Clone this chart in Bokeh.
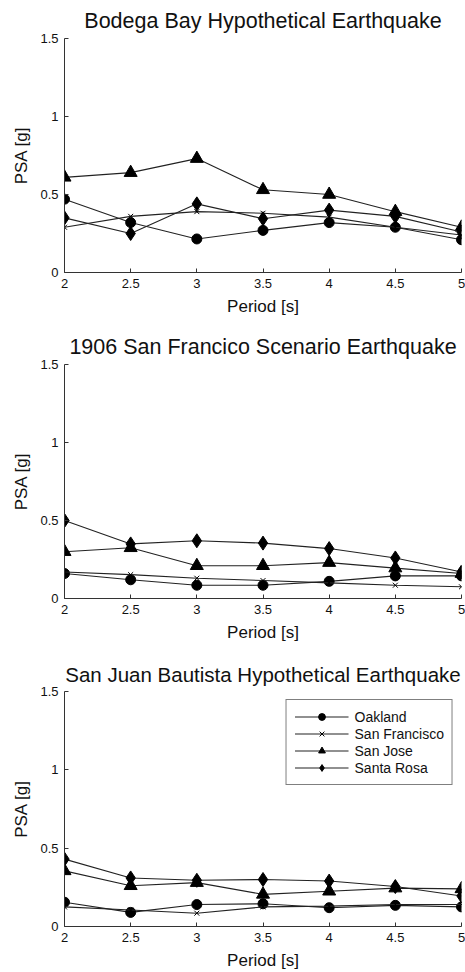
from bokeh.plotting import figure
from bokeh.layouts import column
from bokeh.models import FixedTicker, Legend
from bokeh.embed import file_html
from bokeh.resources import INLINE

periods = [2, 2.5, 3, 3.5, 4, 4.5, 5]
x_ticks = [2, 2.5, 3, 3.5, 4, 4.5, 5]
x_tick_labels = ["2", "2.5", "3", "3.5", "4", "4.5", "5"]
y_ticks = [0, 0.5, 1, 1.5]
y_tick_labels = ["0", "0.5", "1", "1.5"]

stations = ["Oakland", "San Francisco", "San Jose", "Santa Rosa"]

titles = ["Bodega Bay Hypothetical Earthquake",
          "1906 San Francico Scenario Earthquake",
          "San Juan Bautista Hypothetical Earthquake"]

bodega_oakland = [0.47, 0.32, 0.215, 0.27, 0.32, 0.29, 0.21]
bodega_sf = [0.29, 0.36, 0.39, 0.38, 0.355, 0.29, 0.24]
bodega_sj = [0.61, 0.64, 0.73, 0.53, 0.50, 0.39, 0.29]
bodega_sr = [0.35, 0.25, 0.44, 0.345, 0.40, 0.36, 0.26]

sf1906_oakland = [0.16, 0.12, 0.085, 0.085, 0.11, 0.145, 0.145]
sf1906_sf = [0.17, 0.153, 0.13, 0.115, 0.10, 0.085, 0.075]
sf1906_sj = [0.30, 0.325, 0.21, 0.21, 0.23, 0.195, 0.16]
sf1906_sr = [0.50, 0.35, 0.37, 0.355, 0.32, 0.26, 0.17]

sjb_oakland = [0.155, 0.09, 0.14, 0.145, 0.12, 0.135, 0.125]
sjb_sf = [0.125, 0.105, 0.085, 0.125, 0.13, 0.14, 0.14]
sjb_sj = [0.355, 0.26, 0.28, 0.205, 0.225, 0.245, 0.24]
sjb_sr = [0.43, 0.31, 0.295, 0.30, 0.29, 0.255, 0.195]

panels = [
    [bodega_oakland, bodega_sf, bodega_sj, bodega_sr],
    [sf1906_oakland, sf1906_sf, sf1906_sj, sf1906_sr],
    [sjb_oakland, sjb_sf, sjb_sj, sjb_sr],
]

markers = ["circle", "x", "triangle", "diamond"]
msizes = [10, 7, 13, 14]

FONT = "Liberation Sans"
heights = [326, 326, 320]
tops = [37, 37, 39]
bottoms = [54, 54, 46]
title_sizes = ["21.5px", "21.5px", "20.5px"]

figs = []
for i, (title, series) in enumerate(zip(titles, panels)):
    p = figure(width=465, height=heights[i], x_range=(2, 5), y_range=(0, 1.5),
               output_backend="svg", toolbar_location=None, title=title,
               min_border_left=64, min_border_right=4,
               min_border_top=tops[i], min_border_bottom=bottoms[i])
    p.outline_line_color = None
    p.xgrid.visible = False
    p.ygrid.visible = False
    p.background_fill_color = "white"
    p.border_fill_color = "white"
    p.title.align = "center"
    p.title.text_font = FONT
    p.title.text_font_size = title_sizes[i]
    p.title.text_font_style = "normal"
    p.title.text_color = "#111111"
    p.title.standoff = 12

    for ax, ticks, labels in ((p.xaxis, x_ticks, x_tick_labels), (p.yaxis, y_ticks, y_tick_labels)):
        ax.ticker = FixedTicker(ticks=ticks)
        ax.major_label_overrides = {t: l for t, l in zip(ticks, labels)}
        ax.major_tick_in = 4
        ax.major_tick_out = 0
        ax.minor_tick_in = 0
        ax.minor_tick_out = 0
        ax.axis_line_color = "#333333"
        ax.major_tick_line_color = "#333333"
        ax.major_label_text_font = FONT
        ax.major_label_text_font_size = "13px"
        ax.major_label_text_color = "#111111"
        ax.axis_label_text_font = FONT
        ax.axis_label_text_font_size = "17px"
        ax.axis_label_text_font_style = "normal"
        ax.axis_label_text_color = "#111111"
        ax.major_label_standoff = 6
        ax.axis_label_standoff = 6
    p.xaxis.axis_label = "Period [s]"
    p.yaxis.axis_label = "PSA [g]"

    items = []
    for name, vals, mk, ms in zip(stations, series, markers, msizes):
        ln = p.line(periods, vals, line_color="#222222", line_width=1.1)
        sc = p.scatter(periods, vals, marker=mk, size=ms, fill_color="black",
                       line_color="black", line_width=1)
        items.append((name, [ln, sc]))

    if i == 2:
        leg = Legend(items=items, location="top_right")
        leg.border_line_color = "black"
        leg.border_line_width = 1.5
        leg.label_text_font = FONT
        leg.label_text_font_size = "14px"
        leg.label_text_color = "#111111"
        leg.glyph_width = 54
        leg.glyph_height = 17
        leg.label_height = 17
        leg.label_standoff = 6
        leg.spacing = 0
        leg.padding = 8
        leg.margin = 8
        p.add_layout(leg, "center")
    figs.append(p)

layout = column(*figs, spacing=0)
open("out.html", "w").write(file_html(layout, INLINE))
